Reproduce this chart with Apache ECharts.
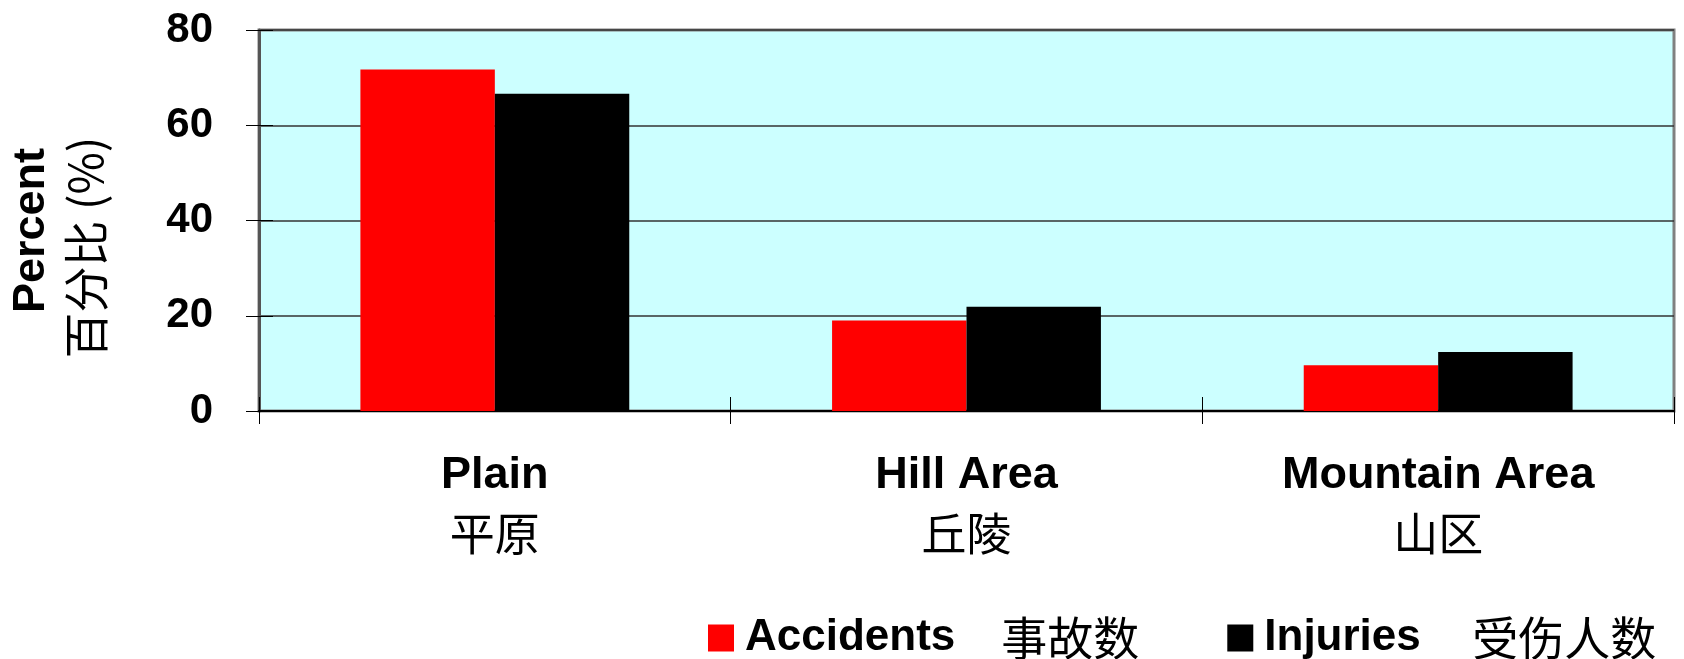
<!DOCTYPE html>
<html>
<head>
<meta charset="utf-8">
<script src="https://cdn.jsdelivr.net/npm/echarts@6/dist/echarts.min.js"></script>
<style>
  html, body { margin: 0; padding: 0; background: #fff; }
  #chart { width: 1684px; height: 659px; }
</style>
</head>
<body>
<div id="chart"></div>
<script>
// 数据
var categoriesEn = ['Plain', 'Hill Area', 'Mountain Area'];
var categoriesZh = ['平原', '丘陵', '山区'];
var accidents = [71.7, 19.0, 9.6];
var injuries = [66.6, 21.9, 12.4];
var yTicks = [0, 20, 40, 60, 80];

var EN = '"Liberation Sans", Arial, sans-serif';
var ZH = '"Noto Sans CJK SC", sans-serif';

var categories = categoriesEn.map(function (c, i) { return c + '|' + categoriesZh[i]; });

var chart = echarts.init(document.getElementById('chart'));

var option = {
  animation: false,
  backgroundColor: '#ffffff',
  grid: {
    left: 259, right: 10, top: 30, bottom: 248,
    show: true,
    backgroundColor: '#CCFFFF',
    borderColor: '#808080',
    borderWidth: 3
  },
  // 图例
  legend: {
    left: 703,
    top: 610,
    itemWidth: 26,
    itemHeight: 27,
    itemGap: 88,
    icon: 'rect',
    data: ['Accidents|事故数', 'Injuries|受伤人数'],
    formatter: function (name) {
      var p = name.split('|');
      if (p[0] === 'Injuries') {
        return '{en2|' + p[0] + '}{zh2|' + p[1] + '}';
      }
      return '{en|' + p[0] + '}{zh|' + p[1] + '}';
    },
    textStyle: {
      rich: {
        en: { fontFamily: EN, fontWeight: 'bold', fontSize: 44, color: '#000', padding: [0, 0, 0, 6] },
        zh: { fontFamily: ZH, fontSize: 46, color: '#000', padding: [0, 0, 0, 46] },
        en2: { fontFamily: EN, fontWeight: 'bold', fontSize: 44, color: '#000', padding: [0, 0, 0, 6], width: 160 },
        zh2: { fontFamily: ZH, fontSize: 46, color: '#000', padding: [0, 0, 0, 48] }
      }
    }
  },
  xAxis: [{
    type: 'category',
    data: categories,
    axisLine: { lineStyle: { color: '#000', width: 2 } },
    axisTick: { show: true, length: 13, lineStyle: { color: '#000', width: 1 } },
    axisLabel: {
      margin: 36,
      formatter: function (v) {
        var p = v.split('|');
        return '{en|' + p[0] + '}\n{zh|' + p[1] + '}';
      },
      rich: {
        en: { fontFamily: EN, fontWeight: 'bold', fontSize: 45, color: '#000', lineHeight: 58 },
        zh: { fontFamily: ZH, fontSize: 45, color: '#000', lineHeight: 58 }
      }
    }
  }, {
    type: 'category',
    position: 'bottom',
    data: categories,
    axisLine: { show: false },
    axisTick: { show: true, inside: true, length: 14, lineStyle: { color: '#000', width: 1 } },
    axisLabel: { show: false }
  }],
  yAxis: [{
    type: 'value',
    min: 0, max: 80, interval: 20,
    name: '{b|Percent}\n{c|百分比 (%)}',
    nameLocation: 'middle',
    nameRotate: 90,
    nameGap: 146,
    nameTextStyle: {
      padding: [0, 54, 0, 0],
      rich: {
        b: { fontFamily: EN, fontWeight: 'bold', fontSize: 45, color: '#000', lineHeight: 54, padding: [0, 0, 0, 34] },
        c: { fontFamily: ZH, fontSize: 46, color: '#000', lineHeight: 54 }
      }
    },
    axisLine: { show: true, lineStyle: { color: '#555', width: 3 } },
    axisTick: { show: true, length: 13, lineStyle: { color: '#000', width: 1 } },
    axisLabel: {
      margin: 46,
      fontFamily: EN, fontWeight: 'bold', fontSize: 42, color: '#000',
      formatter: function (v) { return yTicks.indexOf(v) >= 0 ? String(v) : ''; }
    },
    splitLine: { show: true, lineStyle: { color: '#333', width: 1.5 } }
  }, {
    type: 'value',
    position: 'left',
    min: 0, max: 80, interval: 20,
    axisLine: { show: false },
    axisTick: { show: true, inside: true, length: 14, lineStyle: { color: '#000', width: 1 } },
    axisLabel: { show: false },
    splitLine: { show: false }
  }],
  series: [{
    name: 'Accidents|事故数',
    type: 'bar',
    barGap: '0%',
    barCategoryGap: '43%',
    itemStyle: { color: '#FF0000' },
    data: accidents
  }, {
    name: 'Injuries|受伤人数',
    type: 'bar',
    barGap: '0%',
    barCategoryGap: '43%',
    itemStyle: { color: '#000000' },
    data: injuries
  }]
};

chart.setOption(option);
</script>
</body>
</html>
